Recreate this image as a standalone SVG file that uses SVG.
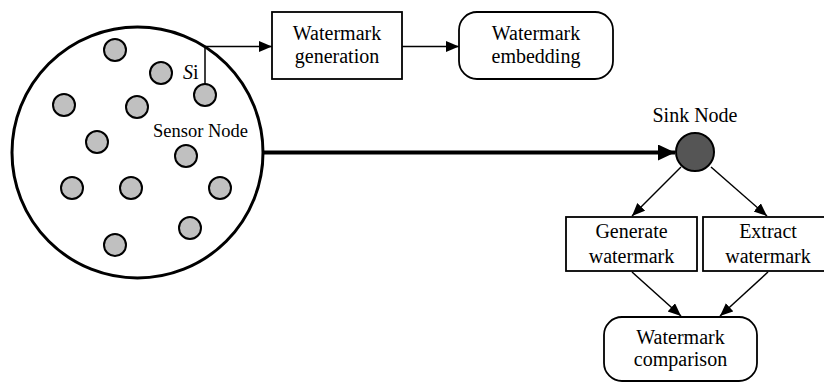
<svg xmlns="http://www.w3.org/2000/svg" width="824" height="383" viewBox="0 0 824 383">
<style>
text{font-family:"Liberation Serif","Times New Roman",serif;fill:#000}
.t{font-size:20px;text-anchor:middle}
.box{fill:#fff;stroke:#000;stroke-width:1.8}
.sn{fill:#c0c0c0;stroke:#000;stroke-width:2}
.ln{fill:none;stroke:#000;stroke-width:1.5}
</style>
<defs>
<marker id="a" markerUnits="userSpaceOnUse" markerWidth="14" markerHeight="12" refX="13" refY="5.5" orient="auto"><path d="M0,0 L13,5.5 L0,11 Z" fill="#000"/></marker>
<marker id="b" markerUnits="userSpaceOnUse" markerWidth="18" markerHeight="18" refX="17" refY="8" orient="auto"><path d="M0,0 L17,8 L0,16 Z" fill="#000"/></marker>
</defs>
<g id="field">
<circle cx="137.5" cy="152.5" r="125.5" fill="#fff" stroke="#000" stroke-width="3"/>
<circle class="sn" cx="115" cy="50" r="11"/>
<circle class="sn" cx="161" cy="73" r="11"/>
<circle class="sn" cx="205" cy="95" r="11"/>
<circle class="sn" cx="64" cy="105" r="11"/>
<circle class="sn" cx="137" cy="107" r="11"/>
<circle class="sn" cx="97" cy="142" r="11"/>
<circle class="sn" cx="186" cy="156" r="11"/>
<circle class="sn" cx="72" cy="188" r="11"/>
<circle class="sn" cx="131" cy="188" r="11"/>
<circle class="sn" cx="220" cy="188" r="11"/>
<circle class="sn" cx="190" cy="228" r="11"/>
<circle class="sn" cx="115" cy="245" r="11"/>
<text x="183" y="79" font-size="20"><tspan font-style="italic">S</tspan>i</text>
<text x="153" y="137" font-size="18.5">Sensor Node</text>
</g>
<g id="connectors">
<path class="ln" d="M205,84 V46.5 H272" marker-end="url(#a)"/>
<path class="ln" d="M402,46.5 H459" marker-end="url(#a)"/>
<path d="M263,152.5 H675" fill="none" stroke="#000" stroke-width="4" marker-end="url(#b)"/>
<path class="ln" d="M681,167 L632,216" marker-end="url(#a)"/>
<path class="ln" d="M711,167 L767,216" marker-end="url(#a)"/>
<path class="ln" d="M632,272 L681,316" marker-end="url(#a)"/>
<path class="ln" d="M768,272 L720,316" marker-end="url(#a)"/>
</g>
<g id="gen">
<rect class="box" x="272" y="12" width="130" height="67"/>
<text class="t" x="337" y="40">Watermark</text>
<text class="t" x="337" y="63">generation</text>
</g>
<g id="embed">
<rect class="box" x="459" y="12" width="154" height="67" rx="18"/>
<text class="t" x="536" y="40">Watermark</text>
<text class="t" x="536" y="63">embedding</text>
</g>
<g id="sink">
<circle cx="695" cy="152" r="19" fill="#555" stroke="#000" stroke-width="2"/>
<text class="t" x="695" y="122">Sink Node</text>
</g>
<g id="generate">
<rect class="box" x="566" y="217" width="131" height="54"/>
<text class="t" x="631.5" y="238">Generate</text>
<text class="t" x="631.5" y="263">watermark</text>
</g>
<g id="extract">
<rect class="box" x="703" y="217" width="124" height="54"/>
<text class="t" x="768" y="238">Extract</text>
<text class="t" x="768" y="263">watermark</text>
</g>
<g id="compare">
<rect class="box" x="604" y="317" width="153" height="64" rx="18"/>
<text class="t" x="680.5" y="344">Watermark</text>
<text class="t" x="680.5" y="366">comparison</text>
</g>
</svg>
